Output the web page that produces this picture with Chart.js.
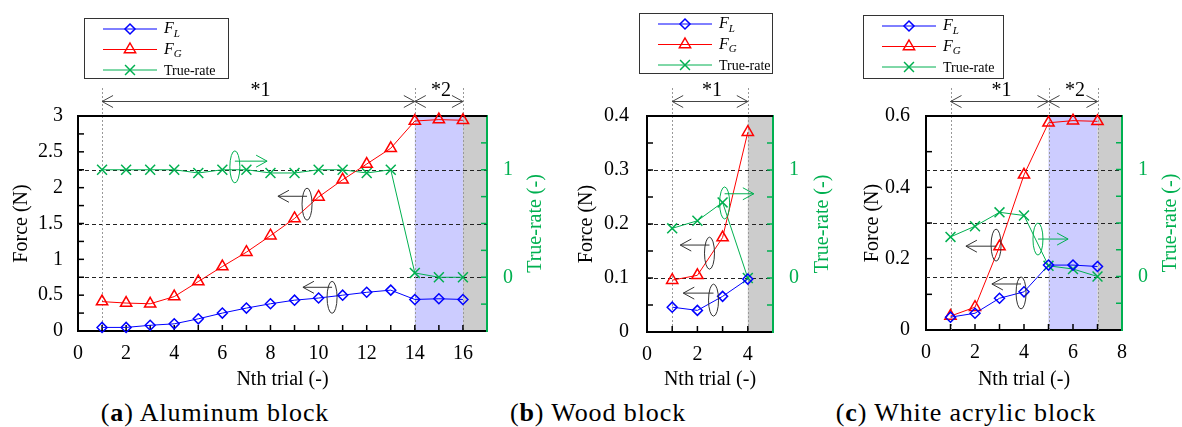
<!DOCTYPE html>
<html>
<head>
<meta charset="utf-8">
<script src="https://cdn.jsdelivr.net/npm/chart.js@4.4.0/dist/chart.umd.min.js"></script>
<style>
  body { margin: 0; background: #fff; width: 1182px; height: 427px; position: relative; overflow: hidden; font-family: "Liberation Serif", serif; }
  canvas { position: absolute; top: 0; }
  .cap { position: absolute; top: 400px; line-height: 26px; font-size: 26px; letter-spacing: 0.9px; color: #000; white-space: nowrap; transform: translateX(-50%); }
</style>
</head>
<body>
<canvas id="chartA" width="560" height="395" style="left:0px"></canvas>
<canvas id="chartB" width="300" height="395" style="left:560px"></canvas>
<canvas id="chartC" width="322" height="395" style="left:860px"></canvas>
<div class="cap" style="left:215px">(<b>a</b>) Aluminum block</div>
<div class="cap" style="left:598px">(<b>b</b>) Wood block</div>
<div class="cap" style="left:966px">(<b>c</b>) White acrylic block</div>
<script>
// (a) aluminum block
var trialsA = [1, 2, 3, 4, 5, 6, 7, 8, 9, 10, 11, 12, 13, 14, 15, 16];
var forceLA = [0.05, 0.05, 0.08, 0.10, 0.17, 0.25, 0.32, 0.38, 0.43, 0.46, 0.50, 0.54, 0.57, 0.44, 0.45, 0.44];
var forceGA = [0.41, 0.39, 0.38, 0.48, 0.69, 0.90, 1.10, 1.33, 1.57, 1.87, 2.11, 2.33, 2.55, 2.93, 2.95, 2.94];
var trueRateA = [1, 1, 1, 1, 0.97, 1, 1, 0.97, 0.97, 1, 1, 0.97, 1, 0.04, 0, 0];
var xTicksA = [0, 2, 4, 6, 8, 10, 12, 14, 16];
var yTicksA = [0, 0.5, 1, 1.5, 2, 2.5, 3];

// (b) wood block
var trialsB = [1, 2, 3, 4];
var forceLB = [0.046, 0.040, 0.066, 0.098];
var forceGB = [0.096, 0.105, 0.175, 0.370];
var trueRateB = [0.46, 0.53, 0.70, 0];
var xTicksB = [0, 2, 4];
var yTicksB = [0, 0.1, 0.2, 0.3, 0.4];

// (c) white acrylic block
var trialsC = [1, 2, 3, 4, 5, 6, 7];
var forceLC = [0.036, 0.047, 0.089, 0.107, 0.182, 0.182, 0.178];
var forceGC = [0.039, 0.064, 0.234, 0.435, 0.581, 0.587, 0.585];
var trueRateC = [0.37, 0.47, 0.60, 0.57, 0.10, 0.07, 0];
var xTicksC = [0, 2, 4, 6, 8];
var yTicksC = [0, 0.2, 0.4, 0.6];

var rateTicks = [0, 1];
var rateGrid = [0, 0.5, 1];

var GREEN = '#00b050';
var SERIF = '"Liberation Serif", serif';
var AXIS_FONT = 20;
Chart.defaults.font.family = SERIF;
Chart.defaults.color = '#000';

var figures = {};

function pts(xs, ys) {
  return xs.map(function (x, i) { return { x: x, y: ys[i] }; });
}

function marker(ctx, style, x, y, r) {
  ctx.beginPath();
  if (style === 'rectRot') {
    ctx.moveTo(x, y - r); ctx.lineTo(x + r, y); ctx.lineTo(x, y + r); ctx.lineTo(x - r, y); ctx.closePath();
  } else if (style === 'triangle') {
    ctx.moveTo(x, y - r); ctx.lineTo(x + r * 0.866, y + r / 2); ctx.lineTo(x - r * 0.866, y + r / 2); ctx.closePath();
  } else {
    var d = r * 0.707;
    ctx.moveTo(x - d, y - d); ctx.lineTo(x + d, y + d);
    ctx.moveTo(x + d, y - d); ctx.lineTo(x - d, y + d);
  }
  ctx.stroke();
}

function openHead(ctx, x, y, dir) {
  ctx.beginPath();
  ctx.moveTo(x - dir * 11, y - 6); ctx.lineTo(x, y); ctx.lineTo(x - dir * 11, y + 6);
  ctx.stroke();
}

var figurePlugin = {
  id: 'figure',
  beforeDraw: function (chart) {
    var f = figures[chart.canvas.id], ctx = chart.ctx, a = chart.chartArea, sx = chart.scales.x;
    ctx.save();
    f.bands.forEach(function (b) {
      var x0 = sx.getPixelForValue(b[0]), x1 = sx.getPixelForValue(b[1]);
      ctx.fillStyle = b[2];
      ctx.fillRect(x0, a.top, x1 - x0, a.bottom - a.top);
    });
    ctx.restore();
  },
  beforeDatasetsDraw: function (chart) {
    var f = figures[chart.canvas.id], ctx = chart.ctx, a = chart.chartArea;
    var sx = chart.scales.x, sy = chart.scales.y, sr = chart.scales.yR;
    ctx.save();
    // dashed lines at true-rate grid values
    ctx.strokeStyle = '#222'; ctx.lineWidth = 1; ctx.setLineDash([4, 3]);
    rateGrid.forEach(function (v) {
      var y = Math.round(sr.getPixelForValue(v)) + 0.5;
      ctx.beginPath(); ctx.moveTo(a.left, y); ctx.lineTo(a.right, y); ctx.stroke();
    });
    // dotted vertical guides up to the brackets
    ctx.strokeStyle = '#999'; ctx.setLineDash([2, 2]);
    f.guides.forEach(function (v) {
      var x = Math.round(sx.getPixelForValue(v)) + 0.5;
      ctx.beginPath(); ctx.moveTo(x, 88); ctx.lineTo(x, a.bottom); ctx.stroke();
    });
    ctx.setLineDash([]);
    // inward tick marks
    ctx.strokeStyle = '#000'; ctx.lineWidth = 1.5;
    for (var v = 0; v <= f.yMax + 1e-9; v += f.yMinor) {
      var y = sy.getPixelForValue(v);
      ctx.beginPath(); ctx.moveTo(a.left, y); ctx.lineTo(a.left + 6, y); ctx.stroke();
    }
    for (var t = 1; t < f.xMax; t++) {
      var x = sx.getPixelForValue(t);
      ctx.beginPath(); ctx.moveTo(x, a.bottom); ctx.lineTo(x, a.bottom - 6); ctx.stroke();
    }
    ctx.strokeStyle = GREEN;
    for (var r = -0.25; r < 1.5; r += 0.25) {
      var yr = sr.getPixelForValue(r);
      ctx.beginPath(); ctx.moveTo(a.right, yr); ctx.lineTo(a.right - 6, yr); ctx.stroke();
    }
    // top frame
    ctx.strokeStyle = '#000'; ctx.lineWidth = 2;
    ctx.beginPath(); ctx.moveTo(a.left - 1, a.top); ctx.lineTo(a.right, a.top); ctx.stroke();
    ctx.restore();
  },
  afterDatasetsDraw: function (chart) {
    var f = figures[chart.canvas.id], ctx = chart.ctx, a = chart.chartArea;
    var sx = chart.scales.x, sy = chart.scales.y;
    ctx.save();
    // brackets *1 / *2
    ctx.strokeStyle = '#444'; ctx.lineWidth = 1;
    ctx.fillStyle = '#000'; ctx.font = AXIS_FONT + 'px ' + SERIF; ctx.textAlign = 'center'; ctx.textBaseline = 'alphabetic';
    f.brackets.forEach(function (b) {
      var x0 = sx.getPixelForValue(b[0]), x1 = sx.getPixelForValue(b[1]), y = 101.5;
      ctx.beginPath(); ctx.moveTo(x0, y); ctx.lineTo(x1, y); ctx.stroke();
      openHead(ctx, x0, y, -1); openHead(ctx, x1, y, 1);
      ctx.fillText(b[2], (x0 + x1) / 2 + 2, 96);
    });
    // loop arrows pointing to the axis of each curve
    f.loops.forEach(function (l) {
      var cx = sx.getPixelForValue(l.x), cy = sy.getPixelForValue(l.y);
      var ay = sy.getPixelForValue(l.ay), tx = sx.getPixelForValue(l.tip);
      var dir = tx > cx ? 1 : -1;
      ctx.strokeStyle = l.color; ctx.lineWidth = 1;
      ctx.beginPath(); ctx.ellipse(cx, cy, 5, 16, 0, 0, Math.PI * 2); ctx.stroke();
      ctx.beginPath(); ctx.moveTo(cx, ay); ctx.lineTo(tx, ay); ctx.stroke();
      openHead(ctx, tx, ay, dir);
    });
    // legend box
    var L = f.legend;
    ctx.fillStyle = '#fff'; ctx.fillRect(L.x, L.y, L.w, L.h);
    ctx.strokeStyle = '#333'; ctx.lineWidth = 1; ctx.strokeRect(L.x + 0.5, L.y + 0.5, L.w, L.h);
    chart.data.datasets.forEach(function (ds, i) {
      var y = L.y + 11 + i * 20.5;
      ctx.strokeStyle = ds.borderColor; ctx.lineWidth = 1;
      ctx.beginPath(); ctx.moveTo(L.x + 19, y); ctx.lineTo(L.x + 73, y); ctx.stroke();
      ctx.lineWidth = 1.5;
      marker(ctx, ds.pointStyle, L.x + 46, y, ds.pointRadius);
      ctx.fillStyle = '#000'; ctx.textAlign = 'left'; ctx.textBaseline = 'middle';
      if (ds.sub) {
        ctx.font = 'italic 16px ' + SERIF;
        ctx.fillText(ds.label, L.x + 80, y);
        var w = ctx.measureText(ds.label).width;
        ctx.font = 'italic 11px ' + SERIF;
        ctx.fillText(ds.sub, L.x + 80 + w, y + 5);
      } else {
        ctx.font = '14px ' + SERIF;
        ctx.fillText(ds.label, L.x + 80, y + 1);
      }
    });
    // right axis title, reading bottom to top
    ctx.translate(f.rightTitleX, (a.top + a.bottom) / 2);
    ctx.rotate(-Math.PI / 2);
    ctx.fillStyle = GREEN; ctx.font = AXIS_FONT + 'px ' + SERIF; ctx.textAlign = 'center'; ctx.textBaseline = 'middle';
    ctx.fillText('True-rate (-)', 0, 0);
    ctx.restore();
  }
};

function plainNumber(v) {
  return String(+Number(v).toFixed(3));
}

function makeChart(id, f, trials, fl, fg, tr) {
  figures[id] = f;
  function fixTicks(list) {
    return function (s) { s.ticks = list.map(function (v) { return { value: v }; }); };
  }
  return new Chart(document.getElementById(id), {
    type: 'line',
    data: {
      datasets: [
        { label: 'F', sub: 'L', data: pts(trials, fl), yAxisID: 'y', borderColor: '#0000ff', borderWidth: 1,
          pointStyle: 'rectRot', pointRadius: 5, pointBorderWidth: 1.5, pointBorderColor: '#0000ff',
          pointBackgroundColor: 'rgba(0,0,0,0)', clip: false },
        { label: 'F', sub: 'G', data: pts(trials, fg), yAxisID: 'y', borderColor: '#ff0000', borderWidth: 1,
          pointStyle: 'triangle', pointRadius: 6.5, pointBorderWidth: 1.5, pointBorderColor: '#ff0000',
          pointBackgroundColor: 'rgba(0,0,0,0)', clip: false },
        { label: 'True-rate', data: pts(trials, tr), yAxisID: 'yR', borderColor: GREEN, borderWidth: 1,
          pointStyle: 'crossRot', pointRadius: 7, pointBorderWidth: 1.5, pointBorderColor: GREEN,
          pointBackgroundColor: 'rgba(0,0,0,0)', clip: false }
      ]
    },
    options: {
      responsive: false,
      animation: false,
      devicePixelRatio: 1,
      layout: { padding: { top: 116, left: 0, right: 0, bottom: 0 } },
      plugins: { legend: { display: false }, tooltip: { enabled: false } },
      scales: {
        x: {
          type: 'linear', min: 0, max: f.xMax,
          grid: { display: false, drawTicks: false },
          border: { color: '#000', width: 2 },
          ticks: { font: { size: AXIS_FONT }, padding: 11, maxRotation: 0, autoSkip: false, callback: plainNumber },
          afterBuildTicks: fixTicks(f.xTicks),
          afterFit: function (s) { s.height = f.bottomH; },
          title: { display: true, text: 'Nth trial (-)', font: { size: AXIS_FONT }, padding: { top: 0, bottom: 3 } }
        },
        y: {
          type: 'linear', position: 'left', min: 0, max: f.yMax,
          grid: { display: false, drawTicks: false },
          border: { color: '#000', width: 2 },
          ticks: { font: { size: AXIS_FONT }, padding: f.leftPad, autoSkip: false, callback: plainNumber },
          afterBuildTicks: fixTicks(f.yTicks),
          afterFit: function (s) { s.width = f.leftW; },
          title: { display: true, text: 'Force (N)', font: { size: AXIS_FONT }, padding: { top: f.leftTitlePad, bottom: 0 } }
        },
        yR: {
          type: 'linear', position: 'right', min: -0.5, max: 1.5,
          grid: { display: false, drawTicks: false },
          border: { color: GREEN, width: 2 },
          ticks: { font: { size: AXIS_FONT }, color: GREEN, padding: 16, autoSkip: false, callback: plainNumber },
          afterBuildTicks: fixTicks(rateTicks),
          afterFit: function (s) { s.width = f.rightW; }
        }
      }
    },
    plugins: [figurePlugin]
  });
}

function drawAll() {
  makeChart('chartA', {
    xMax: 17, yMax: 3, yMinor: 0.25, xTicks: xTicksA, yTicks: yTicksA,
    leftW: 78, rightW: 73, bottomH: 64, leftPad: 15, leftTitlePad: 10, rightTitleX: 536,
    bands: [[14, 16, '#ccccff'], [16, 17, '#cccccc']],
    guides: [1, 14, 16],
    brackets: [[1, 14, '*1'], [14, 16, '*2']],
    loops: [
      { x: 6.52, y: 2.29, ay: 2.37, tip: 7.86, color: GREEN },
      { x: 9.52, y: 1.77, ay: 1.88, tip: 8.31, color: '#333' },
      { x: 10.56, y: 0.47, ay: 0.61, tip: 9.35, color: '#333' }
    ],
    legend: { x: 84, y: 18, w: 144, h: 60 }
  }, trialsA, forceLA, forceGA, trueRateA);

  makeChart('chartB', {
    xMax: 5, yMax: 0.4, yMinor: 0.05, xTicks: xTicksB, yTicks: yTicksB,
    leftW: 87, rightW: 87, bottomH: 63, leftPad: 18, leftTitlePad: 15, rightTitleX: 263,
    bands: [[4, 5, '#cccccc']],
    guides: [1, 4],
    brackets: [[1, 4, '*1']],
    loops: [
      { x: 3.08, y: 0.239, ay: 0.256, tip: 4.24, color: GREEN },
      { x: 2.48, y: 0.146, ay: 0.161, tip: 1.32, color: '#333' },
      { x: 2.64, y: 0.059, ay: 0.072, tip: 1.44, color: '#333' }
    ],
    legend: { x: 79, y: 13, w: 133, h: 60 }
  }, trialsB, forceLB, forceGB, trueRateB);

  makeChart('chartC', {
    xMax: 8, yMax: 0.6, yMinor: 0.1, xTicks: xTicksC, yTicks: yTicksC,
    leftW: 66, rightW: 60, bottomH: 65, leftPad: 16, leftTitlePad: 1, rightTitleX: 311,
    bands: [[5, 7, '#ccccff'], [7, 8, '#cccccc']],
    guides: [1, 5, 7],
    brackets: [[1, 5, '*1'], [5, 7, '*2']],
    loops: [
      { x: 2.86, y: 0.238, ay: 0.235, tip: 1.63, color: '#333' },
      { x: 3.88, y: 0.104, ay: 0.129, tip: 2.69, color: '#333' },
      { x: 4.57, y: 0.255, ay: 0.255, tip: 5.80, color: GREEN }
    ],
    legend: { x: 3, y: 15, w: 140, h: 63 }
  }, trialsC, forceLC, forceGC, trueRateC);
}

document.fonts.load(AXIS_FONT + 'px "Liberation Serif"').then(drawAll, drawAll);
</script>
</body>
</html>
